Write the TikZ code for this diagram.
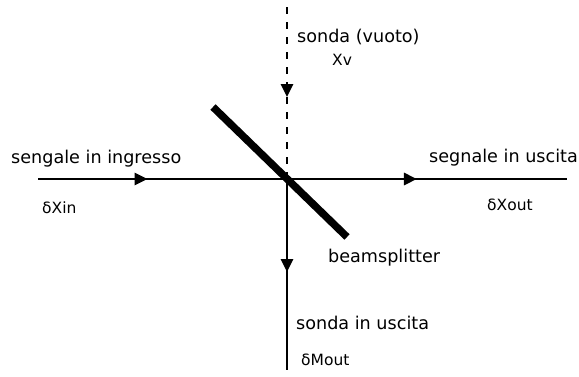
\documentclass[tikz,border=0pt]{standalone}
\usepackage{fontspec}
\setmainfont{DejaVu Sans}
\usetikzlibrary{arrows.meta, decorations.markings, positioning}

\begin{document}
\begin{tikzpicture}[
    x=1pt, y=-1pt,
    >={Triangle[length=13pt, width=12pt]},
    every node/.style={inner sep=0pt, anchor=base west}
]

\tikzset{
    beam/.style={line width=2.9pt},
    vacuumbeam/.style={beam, dash pattern=on 7pt off 8pt, dash phase=8pt},
    splitter/.style={line width=7.5pt},
    biglabel/.style={font=\fontsize{17.6}{20}\selectfont},
    smalllabel/.style={font=\fontsize{15.5}{18}\selectfont},
    midarrow/.style={postaction={decorate}, decoration={markings, mark=at position #1 with {\arrow{>}}}}
}

\useasboundingbox (0,0) rectangle (579,376);

% beam ports
\coordinate (bs) at (287,179);
\coordinate (inL) at (38,179);
\coordinate (outR) at (567,179);
\coordinate (vacT) at (287,0);
\coordinate (outB) at (287,370);
\coordinate (bsA) at (213,107);
\coordinate (bsB) at (347,237);

\draw [beam, midarrow=0.44] (inL) -- (bs);
\draw [beam, midarrow=0.464] (bs) -- (outR);
\draw [vacuumbeam, midarrow=0.542] (vacT) -- (bs);
\draw [beam, midarrow=0.487] (bs) -- (outB);

\draw [splitter] (bsA) -- (bsB);

% labels
\node [biglabel] (inlab) at (11,163) {sengale in ingresso};
\node [smalllabel] (inval) at (42,213) {δXin};
\node [biglabel] (outlab) at (429,162) {segnale in uscita};
\node [smalllabel] (outval) at (487,210) {δXout};
\node [biglabel] (vaclab) at (297,42) {sonda (vuoto)};
\node [smalllabel] (vacval) at (332,65) {Xv};
\node [biglabel] (bslab) at (328,262) {beamsplitter};
\node [biglabel] (problab) at (296,329) {sonda in uscita};
\node [smalllabel] (probval) at (301,365) {δMout};

\end{tikzpicture}
\end{document}
